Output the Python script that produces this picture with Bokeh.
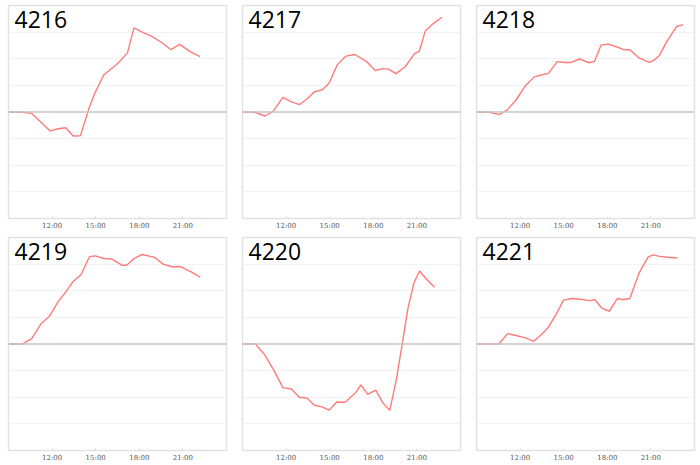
from bokeh.plotting import figure
from bokeh.layouts import column, row
from bokeh.models import Range1d, FixedTicker, Span, Label
from bokeh.embed import file_html
from bokeh.resources import INLINE

station_names = ["4216", "4217", "4218", "4219", "4220", "4221"]
tick_hours = [12, 15, 18, 21]
tick_labels = ["12:00", "15:00", "18:00", "21:00"]
grid_levels = [-3, -2, -1, 1, 2, 3]

times_4216 = ["09:00", "09:59", "10:35", "11:52", "12:25", "12:56", "13:27", "13:57", "14:31", "14:54",
              "15:33", "16:34", "17:11", "17:38", "18:16", "18:50", "19:34", "20:11", "20:46", "21:34", "22:11"]
values_4216 = [0.00, -0.01, -0.05, -0.71, -0.63, -0.59, -0.90, -0.89, 0.10, 0.66,
               1.39, 1.85, 2.22, 3.16, 2.98, 2.85, 2.60, 2.34, 2.54, 2.25, 2.08]

times_4217 = ["09:00", "09:50", "10:33", "11:07", "11:47", "12:22", "12:56", "13:27", "13:57", "14:29",
              "14:58", "15:31", "16:07", "16:44", "17:34", "18:08", "18:40", "19:03", "19:33", "20:11",
              "20:50", "21:10", "21:34", "22:10", "22:44"]
values_4217 = [0.00, -0.01, -0.15, 0.03, 0.55, 0.38, 0.28, 0.50, 0.76, 0.83,
               1.09, 1.77, 2.10, 2.16, 1.88, 1.56, 1.63, 1.61, 1.44, 1.69,
               2.19, 2.28, 3.03, 3.34, 3.56]

times_4218 = ["09:00", "09:55", "10:33", "11:07", "11:44", "12:22", "12:57", "13:27", "13:57", "14:33",
              "15:03", "15:31", "16:05", "16:46", "17:07", "17:34", "18:04", "18:35", "19:05", "19:34",
              "20:11", "20:52", "21:10", "21:34", "22:08", "22:46", "23:13"]
values_4218 = [0.00, -0.01, -0.10, 0.08, 0.46, 0.99, 1.31, 1.39, 1.45, 1.89,
               1.86, 1.86, 1.99, 1.85, 1.90, 2.51, 2.55, 2.46, 2.35, 2.33,
               2.03, 1.86, 1.93, 2.11, 2.68, 3.21, 3.28]

times_4219 = ["09:00", "09:56", "10:35", "11:14", "11:48", "12:25", "12:56", "13:26", "14:00", "14:34",
              "14:59", "15:33", "16:07", "16:48", "17:08", "17:38", "18:10", "18:37", "19:04", "19:38",
              "20:15", "20:49", "21:34", "22:11"]
values_4219 = [0.00, 0.00, 0.19, 0.76, 1.03, 1.59, 1.95, 2.34, 2.61, 3.28,
               3.31, 3.21, 3.19, 2.96, 2.96, 3.21, 3.36, 3.31, 3.25, 3.00,
               2.90, 2.91, 2.71, 2.51]

times_4220 = ["09:00", "09:53", "10:32", "11:09", "11:47", "12:22", "12:54", "13:26", "13:57", "14:28",
              "14:58", "15:29", "16:03", "16:47", "17:09", "17:37", "18:10", "18:41", "19:08", "19:35",
              "20:00", "20:23", "20:48", "21:11", "21:39", "22:13"]
values_4220 = [0.00, 0.00, -0.41, -0.98, -1.64, -1.69, -2.00, -2.03, -2.30, -2.36,
               -2.48, -2.18, -2.19, -1.83, -1.54, -1.89, -1.73, -2.23, -2.49, -1.35,
               0.03, 1.34, 2.30, 2.74, 2.44, 2.13]

times_4221 = ["09:00", "10:32", "11:09", "11:47", "12:22", "12:56", "13:27", "13:57", "14:28", "14:59",
              "15:34", "16:07", "16:49", "17:09", "17:37", "18:08", "18:42", "19:05", "19:33", "20:11",
              "20:48", "21:09", "21:36", "22:10", "22:49"]
values_4221 = [0.00, 0.00, 0.39, 0.31, 0.23, 0.10, 0.35, 0.63, 1.10, 1.65,
               1.71, 1.68, 1.63, 1.66, 1.35, 1.23, 1.71, 1.66, 1.71, 2.66,
               3.26, 3.35, 3.29, 3.26, 3.23]

series = [
    (times_4216, values_4216), (times_4217, values_4217), (times_4218, values_4218),
    (times_4219, values_4219), (times_4220, values_4220), (times_4221, values_4221),
]


def to_hours(t):
    h, m = t.split(":")
    return int(h) + int(m) / 60.0


def make_panel(name, times, values):
    p = figure(frame_width=218, frame_height=213, output_backend="svg", toolbar_location=None,
               x_range=Range1d(9, 24), y_range=Range1d(-4, 4),
               min_border_left=8, min_border_right=8, min_border_top=5, min_border_bottom=14)
    p.background_fill_color = "white"
    p.border_fill_color = "white"
    p.outline_line_color = "#e2e2e2"
    p.outline_line_width = 1.5
    p.yaxis.visible = False
    p.xgrid.visible = False
    p.ygrid.ticker = FixedTicker(ticks=grid_levels)
    p.ygrid.grid_line_color = "#f2f2f2"
    p.ygrid.grid_line_width = 1
    xa = p.xaxis[0]
    xa.ticker = FixedTicker(ticks=tick_hours)
    xa.major_label_overrides = {h: lab for h, lab in zip(tick_hours, tick_labels)}
    xa.axis_line_color = None
    xa.major_tick_in = 2
    xa.major_tick_out = 0
    xa.major_tick_line_color = "#dddddd"
    xa.minor_tick_line_color = None
    xa.major_label_text_font = "DejaVu Serif"
    xa.major_label_text_font_size = "7px"
    xa.major_label_text_color = "#555555"
    xa.major_label_standoff = 3
    p.add_layout(Span(location=0, dimension="width", line_color="#c4c4c4", line_width=1.5))
    p.line([to_hours(t) for t in times], values, line_color="#ff7b7b", line_width=1.4)
    p.add_layout(Label(x=9, y=4, x_offset=6, y_offset=-5, text=name, text_baseline="top",
                       text_align="left", text_font="Open Sans", text_font_size="23px",
                       text_color="black"))
    return p


panels = [make_panel(n, t, v) for n, (t, v) in zip(station_names, series)]
layout = column(row(panels[0:3], spacing=0), row(panels[3:6], spacing=0), spacing=0)

open("out.html", "w").write(file_html(layout, INLINE))
